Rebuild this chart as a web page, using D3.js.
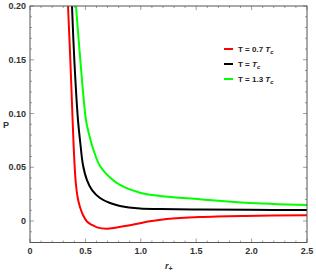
<!DOCTYPE html>
<html>
<head>
<meta charset="utf-8">
<script src="https://cdn.jsdelivr.net/npm/d3@7"></script>
<style>
  body { margin: 0; background: #fff; }
  text { font-family: "Liberation Sans", Arial, sans-serif; }
</style>
</head>
<body>
<div id="chart"></div>
<script>
// isotherms: r+ and P
var rRed   = [0.343, 0.364, 0.3845, 0.400, 0.415, 0.431, 0.451, 0.478, 0.514, 0.560, 0.605, 0.692, 0.782, 0.902, 1.083, 1.234, 1.534, 1.940, 2.5];
var pRed   = [0.200, 0.1498, 0.094, 0.0567, 0.0335, 0.0214, 0.0130, 0.0056, -0.0005, -0.0037, -0.0059, -0.0072, -0.0060, -0.0040, -0.0003, 0.0019, 0.0037, 0.0047, 0.0053];
var rBlack = [0.379, 0.400, 0.433, 0.456, 0.478, 0.514, 0.560, 0.632, 0.722, 0.812, 0.993, 1.173, 1.534, 1.986, 2.5];
var pBlack = [0.200, 0.1498, 0.094, 0.0707, 0.0521, 0.0381, 0.0288, 0.0214, 0.0167, 0.0140, 0.0116, 0.0112, 0.0107, 0.0104, 0.0102];
var rGreen = [0.415, 0.454, 0.505, 0.530, 0.573, 0.632, 0.722, 0.812, 0.993, 1.173, 1.534, 1.940, 2.5];
var pGreen = [0.200, 0.1498, 0.094, 0.0819, 0.0660, 0.0512, 0.0405, 0.0335, 0.0263, 0.0233, 0.0202, 0.0170, 0.0149];

var seriesNames  = ["0.7", "", "1.3"];
var seriesColors = ["#ff0000", "#000000", "#00ff00"];

var xTicks = [0, 0.5, 1.0, 1.5, 2.0, 2.5];
var xTickLabels = ["0", "0.5", "1.0", "1.5", "2.0", "2.5"];
var yTicks = [0, 0.05, 0.10, 0.15, 0.20];
var yTickLabels = ["0", "0.05", "0.10", "0.15", "0.20"];

var width = 316, height = 274;
var frame = {x0: 30, x1: 307, y0: 6, y1: 242.5};

var svg = d3.select("#chart").append("svg")
    .attr("width", width)
    .attr("height", height);

var x = d3.scaleLinear().domain([0, 2.5]).range([frame.x0, frame.x1]);
var y = d3.scaleLinear().domain([-0.02, 0.2]).range([frame.y1, frame.y0]);

svg.append("clipPath").attr("id", "clip")
  .append("rect")
    .attr("x", frame.x0).attr("y", frame.y0)
    .attr("width", frame.x1 - frame.x0).attr("height", frame.y1 - frame.y0);

// ticks on all four sides, pointing in
var xMinor = d3.range(0, 2.51, 0.1);
var yMinor = d3.range(-0.02, 0.2001, 0.01);
var tickColor = "#888";
var g = svg.append("g");
xMinor.forEach(function (v) {
    var major = xTicks.some(t => Math.abs(t - v) < 1e-6);
    var len = major ? 4 : 2;
    g.append("line").attr("x1", x(v)).attr("x2", x(v)).attr("y1", frame.y1).attr("y2", frame.y1 - len)
        .attr("stroke", tickColor).attr("stroke-width", 0.8);
    g.append("line").attr("x1", x(v)).attr("x2", x(v)).attr("y1", frame.y0).attr("y2", frame.y0 + len)
        .attr("stroke", tickColor).attr("stroke-width", 0.8);
});
yMinor.forEach(function (v) {
    var major = yTicks.some(t => Math.abs(t - v) < 1e-6);
    var len = major ? 4 : 2;
    g.append("line").attr("y1", y(v)).attr("y2", y(v)).attr("x1", frame.x0).attr("x2", frame.x0 + len)
        .attr("stroke", tickColor).attr("stroke-width", 0.8);
    g.append("line").attr("y1", y(v)).attr("y2", y(v)).attr("x1", frame.x1).attr("x2", frame.x1 - len)
        .attr("stroke", tickColor).attr("stroke-width", 0.8);
});

// curves
var line = d3.line()
    .x(d => x(d[0]))
    .y(d => y(d[1]))
    .curve(d3.curveCatmullRom.alpha(0.5));

var curves = [d3.zip(rRed, pRed), d3.zip(rBlack, pBlack), d3.zip(rGreen, pGreen)];
svg.append("g").attr("clip-path", "url(#clip)")
  .selectAll("path")
  .data(curves)
  .enter()
  .append("path")
    .attr("d", line)
    .attr("fill", "none")
    .attr("stroke", (d, i) => seriesColors[i])
    .attr("stroke-width", 2);

// frame
svg.append("rect")
    .attr("x", frame.x0).attr("y", frame.y0)
    .attr("width", frame.x1 - frame.x0).attr("height", frame.y1 - frame.y0)
    .attr("fill", "none")
    .attr("stroke", "#555")
    .attr("stroke-width", 1);

// tick labels
svg.selectAll(".xl")
  .data(xTicks)
  .enter()
  .append("text")
    .attr("x", d => x(d))
    .attr("y", 254)
    .attr("text-anchor", "middle")
    .style("font-size", "9px")
    .style("font-weight", "bold")
    .style("fill", "#333")
    .text((d, i) => xTickLabels[i]);

svg.selectAll(".yl")
  .data(yTicks)
  .enter()
  .append("text")
    .attr("x", 26)
    .attr("y", d => y(d) + 3)
    .attr("text-anchor", "end")
    .style("font-size", "9px")
    .style("font-weight", "bold")
    .style("fill", "#333")
    .text((d, i) => yTickLabels[i]);

// axis labels
svg.append("text")
    .attr("x", 3).attr("y", 128)
    .style("font-size", "9px")
    .style("font-weight", "bold")
    .style("fill", "#333")
    .text("P");

var rl = svg.append("text")
    .attr("x", 165).attr("y", 269)
    .style("font-size", "9px")
    .style("font-weight", "bold")
    .style("fill", "#333");
rl.append("tspan").style("font-style", "italic").text("r");
rl.append("tspan").attr("dy", 2).style("font-size", "7px").text("+");

// legend
var legend = svg.selectAll(".legend")
  .data(seriesNames)
  .enter()
  .append("g")
    .attr("class", "legend")
    .attr("transform", (d, i) => "translate(224," + (49 + i * 15) + ")");

legend.append("line")
    .attr("x1", 0).attr("x2", 9)
    .attr("stroke", (d, i) => seriesColors[i])
    .attr("stroke-width", 2);

var lt = legend.append("text")
    .attr("x", 14).attr("y", 3)
    .style("font-size", "8px")
    .style("font-weight", "bold")
    .style("fill", "#222");
lt.append("tspan").text(d => d ? "T = " + d + " " : "T = ");
lt.append("tspan").style("font-style", "italic").text("T");
lt.append("tspan").attr("dy", 2).style("font-size", "6px").style("font-style", "italic").text("c");
</script>
</body>
</html>
